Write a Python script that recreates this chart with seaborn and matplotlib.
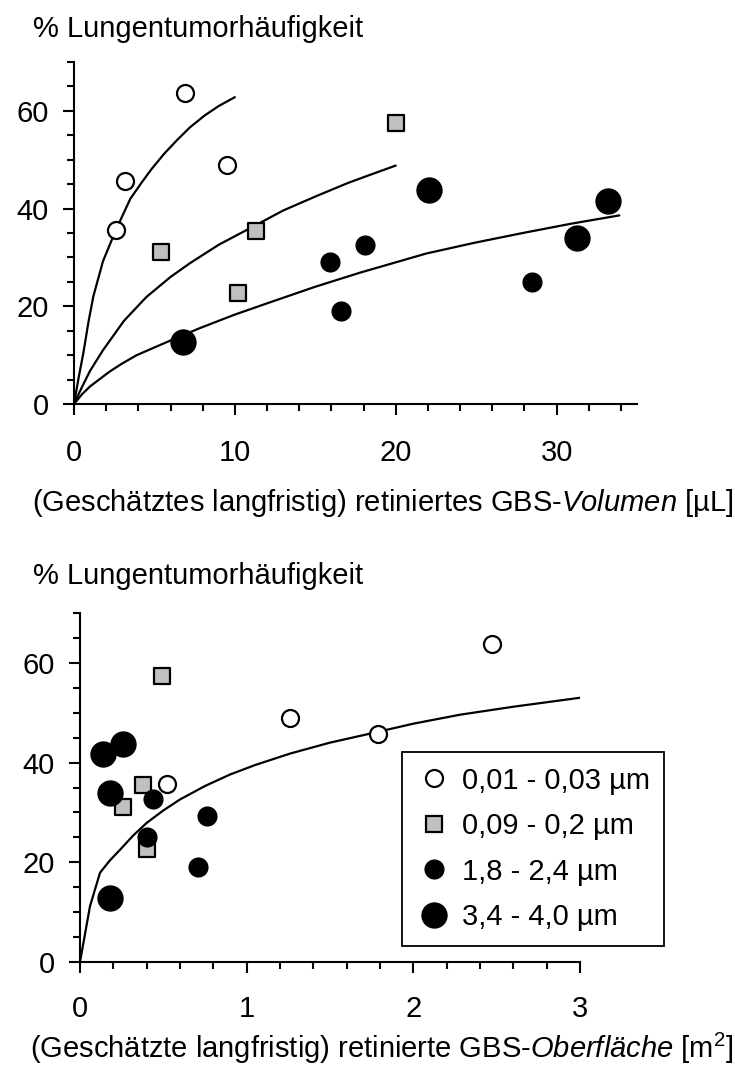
import numpy as np
import pandas as pd
import seaborn as sns
import matplotlib.pyplot as plt
from matplotlib.lines import Line2D
from matplotlib.ticker import MultipleLocator

# --- data ---
groups = ['0,01 - 0,03 µm', '0,09 - 0,2 µm', '1,8 - 2,4 µm', '3,4 - 4,0 µm']

# volume panel (µL)
vol_x_a = [2.6, 3.2, 6.9, 9.5]
vol_y_a = [35.7, 45.6, 63.7, 48.9]
vol_x_b = [5.4, 10.2, 11.3, 20.0]
vol_y_b = [31.1, 22.8, 35.5, 57.5]
vol_x_c = [15.9, 16.6, 18.1, 28.5]
vol_y_c = [29.1, 19.1, 32.5, 24.9]
vol_x_d = [6.8, 22.1, 31.3, 33.2]
vol_y_d = [12.7, 43.8, 33.9, 41.6]

# surface panel (m²)
surf_x_a = [0.52, 1.26, 1.79, 2.47]
surf_y_a = [35.8, 49.0, 45.8, 63.7]
surf_x_b = [0.49, 0.38, 0.26, 0.40]
surf_y_b = [57.4, 35.6, 31.0, 22.7]
surf_x_c = [0.44, 0.76, 0.71, 0.40]
surf_y_c = [32.7, 29.2, 19.1, 25.1]
surf_x_d = [0.14, 0.26, 0.18, 0.18]
surf_y_d = [41.7, 43.7, 33.9, 12.8]

# fitted curves, traced
curve1_x = [0, 0.3, 0.58, 0.9, 1.2, 1.8, 2.6, 3.5, 4.2, 4.8, 5.6, 6.4, 7.2, 8.1, 9.0, 10.0]
curve1_y = [0, 5.6, 10.4, 16.8, 22.0, 29.2, 35.6, 42.0, 45.3, 48.0, 51.2, 54.0, 56.6, 59.0, 61.0, 62.8]
curve2_x = [0, 0.5, 1.0, 1.8, 3.1, 4.5, 6.0, 7.2, 9.0, 11.3, 13.0, 15.1, 17.0, 18.4, 20.0]
curve2_y = [0, 3.5, 6.8, 11.0, 17.0, 21.9, 26.0, 28.8, 32.6, 36.6, 39.6, 42.6, 45.2, 46.9, 48.8]
curve3_x = [0, 0.5, 1.0, 2.2, 3.0, 3.9, 6.0, 7.8, 10.0, 12.0, 15.0, 17.8, 21.9, 24.9, 27.9, 30.9, 33.9]
curve3_y = [0, 2.0, 3.6, 6.6, 8.3, 10.0, 13.0, 15.5, 18.3, 20.6, 24.0, 26.9, 30.8, 33.0, 35.0, 36.9, 38.6]
curve4_x = [0, 0.06, 0.12, 0.18, 0.24, 0.32, 0.40, 0.50, 0.60, 0.75, 0.90, 1.05, 1.26, 1.50, 1.74, 2.0, 2.28, 2.6, 3.0]
curve4_y = [0, 11.2, 17.9, 20.4, 22.5, 25.4, 27.9, 30.4, 32.6, 35.3, 37.6, 39.5, 41.8, 44.0, 45.8, 47.8, 49.6, 51.2, 53.0]

sns.set_style('white')
plt.rcParams['font.family'] = ['Liberation Sans', 'DejaVu Sans']
plt.rcParams['mathtext.fontset'] = 'custom'
plt.rcParams['mathtext.rm'] = 'Liberation Sans'
plt.rcParams['mathtext.it'] = 'Liberation Sans:italic'
plt.rcParams['text.color'] = 'black'

styles = [
    dict(marker='o', s=150, color='white', edgecolor='black', linewidth=1.6),
    dict(marker='s', s=130, color='#c0c0c0', edgecolor='black', linewidth=1.6),
    dict(marker='o', s=210, color='black', edgecolor='black', linewidth=0),
    dict(marker='o', s=360, color='black', edgecolor='black', linewidth=0),
]

fig = plt.figure(figsize=(7.35, 10.7), dpi=100)
ax1 = fig.add_axes([74 / 735, 1 - 404 / 1070, 563 / 735, 342 / 1070])
ax2 = fig.add_axes([80 / 735, 1 - 962 / 1070, 500 / 735, 349 / 1070])


def draw_curve(ax, xs, ys):
    sns.lineplot(x=xs, y=ys, ax=ax, color='black', linewidth=1.6,
                 sort=False, estimator=None, zorder=2)


def draw_points(ax, xs, ys, st):
    sns.scatterplot(x=xs, y=ys, ax=ax, zorder=3, legend=False, **st)


draw_curve(ax1, curve1_x, curve1_y)
draw_curve(ax1, curve2_x, curve2_y)
draw_curve(ax1, curve3_x, curve3_y)
for xs, ys, st in zip([vol_x_a, vol_x_b, vol_x_c, vol_x_d],
                      [vol_y_a, vol_y_b, vol_y_c, vol_y_d], styles):
    draw_points(ax1, xs, ys, st)

draw_curve(ax2, curve4_x, curve4_y)
for xs, ys, st in zip([surf_x_a, surf_x_b, surf_x_c, surf_x_d],
                      [surf_y_a, surf_y_b, surf_y_c, surf_y_d], styles):
    draw_points(ax2, xs, ys, st)

for ax, xmax, xmaj, xmin, xpad in [(ax1, 35, 10, 2, 17), (ax2, 3, 1, 0.2, 15.5)]:
    ax.set_xlim(0, xmax)
    ax.set_ylim(0, 70)
    ax.xaxis.set_major_locator(MultipleLocator(xmaj))
    ax.xaxis.set_minor_locator(MultipleLocator(xmin))
    ax.yaxis.set_major_locator(MultipleLocator(20))
    ax.yaxis.set_minor_locator(MultipleLocator(5))
    ax.tick_params(which='major', length=8, width=1.5, labelsize=21,
                   direction='out', bottom=True, left=True, color='black',
                   labelcolor='black')
    ax.tick_params(which='minor', length=5, width=1.5, direction='out',
                   bottom=True, left=True, color='black')
    ax.tick_params(axis='x', which='major', pad=xpad)
    ax.tick_params(axis='y', which='major', pad=10)
    sns.despine(ax=ax)
    for sp in ['left', 'bottom']:
        ax.spines[sp].set_linewidth(1.5)
        ax.spines[sp].set_color('black')
    ax.set_xlabel('')
    ax.set_ylabel('')
    ax.patch.set_alpha(0)

fig.text(33 / 735, 1 - 37 / 1070, '% Lungentumorhäufigkeit', fontsize=21,
         ha='left', va='baseline', color='black')
fig.text(33 / 735, 1 - 584 / 1070, '% Lungentumorhäufigkeit', fontsize=21,
         ha='left', va='baseline', color='black')
fig.text(733 / 735, 1 - 503 / 1070,
         r'(Geschätztes langfristig) retiniertes GBS-$\mathit{Volumen}$ [µL]',
         fontsize=21, ha='right', va='center', color='black')
fig.text(733 / 735, 1 - 1048 / 1070,
         r'(Geschätzte langfristig) retinierte GBS-$\mathit{Oberfläche}$ [m$^2$]',
         fontsize=21, ha='right', va='center', color='black')

handles = []
for name, st in zip(groups, styles):
    handles.append(Line2D([], [], linestyle='none', marker=st['marker'],
                          markersize=np.sqrt(st['s']),
                          markerfacecolor=st['color'],
                          markeredgecolor=st['edgecolor'],
                          markeredgewidth=st['linewidth'], label=name))
leg = ax2.legend(handles=handles, loc='upper left',
                 bbox_to_anchor=(402 / 735, 1 - 752 / 1070),
                 bbox_transform=fig.transFigure,
                 fontsize=21, frameon=True, fancybox=False, borderpad=0.5,
                 labelspacing=0.6, handletextpad=0.35, handlelength=1.2,
                 borderaxespad=0, labelcolor='black')
leg.get_frame().set_edgecolor('black')
leg.get_frame().set_linewidth(1.3)
leg.get_frame().set_alpha(1)

fig.savefig('out.png', dpi=100)
